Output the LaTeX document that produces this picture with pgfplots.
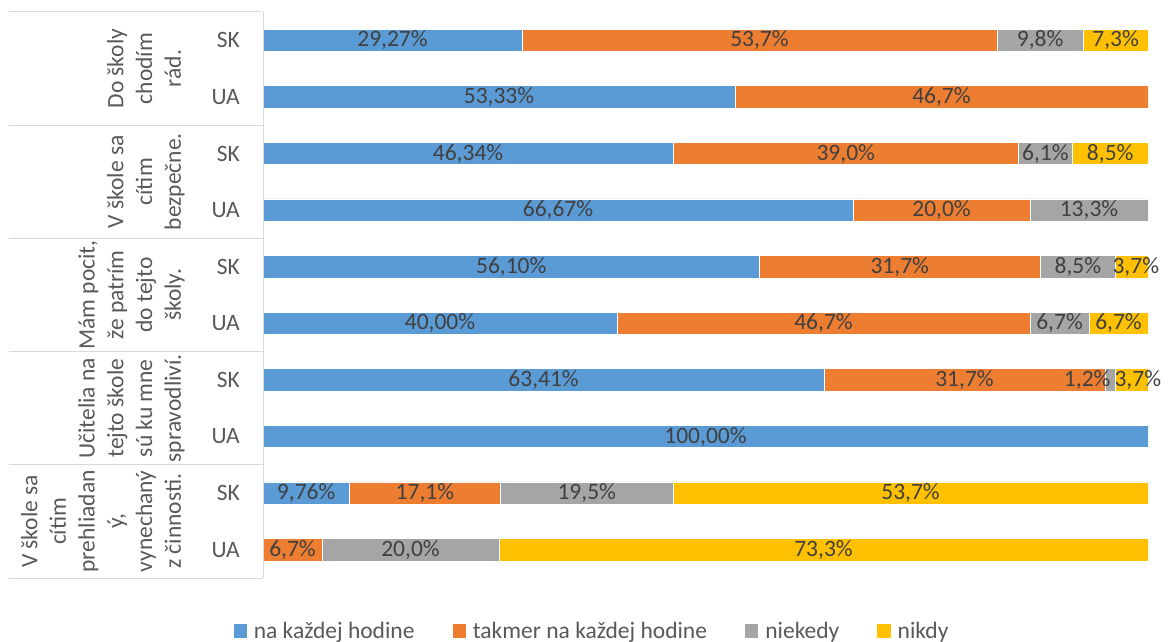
\documentclass[border=0pt]{standalone}
\usepackage{pgfplots}
\usepackage{pgfplotstable}
\pgfplotsset{compat=1.18}
\usepackage{fontspec}
\setmainfont{Carlito}
\definecolor{cblue}{HTML}{5B9BD5}
\definecolor{corange}{HTML}{ED7D31}
\definecolor{cgray}{HTML}{A5A5A5}
\definecolor{cyellow}{HTML}{FFC000}
\definecolor{clabel}{HTML}{404040}
\definecolor{ctick}{HTML}{595959}
\definecolor{cline}{HTML}{D9D9D9}
\newcommand\cf{\fontsize{23.5}{28.7}\selectfont}
% rows: 0 = Do skoly SK, 1 = Do skoly UA, ... 9 = prehliadany UA
% s = horizontal offset of the value label (pt)
\pgfplotstableread{
y v s
0 29.27 0
1 53.33 0
2 46.34 0
3 66.67 0
4 56.10 0
5 40.00 0
6 63.41 0
7 100.00 0
8 9.76 0
9 0 0
}\tblue
\pgfplotstableread{
y v s
0 53.66 0
1 46.67 0
2 39.02 0
3 20.00 0
4 31.70 0
5 46.67 0
6 31.71 0
7 0 0
8 17.07 0
9 6.67 0
}\torange
\pgfplotstableread{
y v s
0 9.76 0
1 0 0
2 6.10 0
3 13.33 0
4 8.54 0
5 6.67 0
6 1.22 -23
7 0 0
8 19.51 0
9 20.00 0
}\tgray
\pgfplotstableread{
y v s
0 7.31 0
1 0 0
2 8.54 0
3 0 0
4 3.66 4
5 6.66 0
6 3.66 6
7 0 0
8 53.66 0
9 73.33 0
}\tyellow
\pgfplotsset{
  seg/.style={fill=#1, draw=white, line width=0.6pt, point meta=\thisrow{v},
    visualization depends on={\thisrow{s} \as \sh}},
  lab/.style={nodes near coords={\pgfmathfloatifflags{\pgfplotspointmeta}{0}{}{\pgfmathprintnumber[fixed,fixed zerofill,precision=#1,use comma,assume math mode=true]{\pgfplotspointmeta}\%}}},
}
\begin{document}
\begin{tikzpicture}
\begin{axis}[
  at={(263pt,63pt)}, anchor=south west,
  scale only axis, width=885pt, height=566pt,
  xmin=0, xmax=100, ymin=-0.5, ymax=9.5, y dir=reverse,
  xbar stacked, bar width=22.4pt,
  axis line style={draw=none},
  xtick=\empty,
  ytick={0,...,9},
  yticklabels={SK,UA,SK,UA,SK,UA,SK,UA,SK,UA},
  ytick style={draw=none}, major tick length=0pt,
  yticklabel style={inner sep=0pt, xshift=-23pt, font=\cf, text=ctick},
  every node near coord/.append style={font=\cf, text=clabel, anchor=center, inner sep=0pt, xshift=\sh pt},
  legend columns=-1,
  legend style={at={(0.3706,-0.0936)}, anchor=center, draw=none, font=\cf, text=ctick,
    inner sep=0pt, nodes={inner sep=0pt},
    /tikz/every odd column/.append style={column sep=7pt},
    /tikz/every even column/.append style={column sep=38pt}},
  legend image code/.code={\path[#1,draw=none] (0pt,-6.8pt) rectangle (13.3pt,6.8pt);},
]
\addplot[seg=cblue, lab=2] table[x=v, y=y] {\tblue};
\addplot[seg=corange, lab=1] table[x=v, y=y] {\torange};
\addplot[seg=cgray, lab=1] table[x=v, y=y] {\tgray};
\addplot[seg=cyellow, lab=1] table[x=v, y=y] {\tyellow};
\legend{na každej hodine, takmer na každej hodine, niekedy, nikdy}
\end{axis}
\draw[cline, line width=1pt] (263pt,63pt) -- (263pt,629pt);
\foreach \yy in {629,515.8,402.6,289.4,176.2,63}{
  \draw[cline, line width=1pt] (9pt,\yy pt) -- (263pt,\yy pt);
}
\begin{scope}[every node/.style={rotate=90, anchor=south, align=center, inner sep=0pt, font=\cf, text=ctick}]
\node at (189.6pt,572.4pt) {Do školy\\chodím\\rád.\strut};
\node at (189.6pt,459.2pt) {V škole sa\\cítim\\bezpečne.\strut};
\node at (189.6pt,346pt) {Mám pocit,\\že patrím\\do tejto\\školy.\strut};
\node at (189.6pt,232.8pt) {Učitelia na\\tejto škole\\sú ku mne\\spravodliví.\strut};
\node at (189.6pt,119.6pt) {V škole sa\\cítim\\prehliadan\\ý,\\vynechaný\\z činnosti.\strut};
\end{scope}
\pgfresetboundingbox
\path (0,0) rectangle (1171pt,641pt);
\end{tikzpicture}
\end{document}
